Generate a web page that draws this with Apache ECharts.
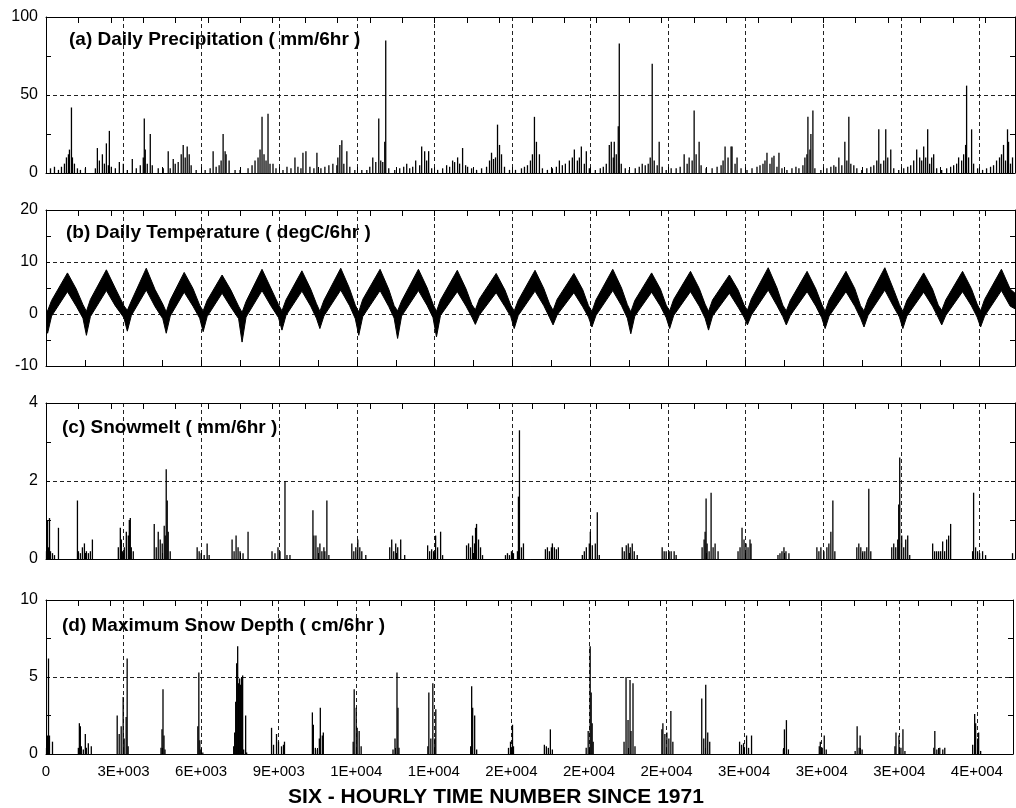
<!DOCTYPE html>
<html>
<head>
<meta charset="utf-8">
<script src="https://cdn.jsdelivr.net/npm/echarts@6/dist/echarts.min.js"></script>
<style>html,body{margin:0;padding:0;background:#fff}#c{width:1016px;height:808px}</style>
</head>
<body>
<div id="c"></div>
<script>
// ---------- tick labels ----------
const xTickLabels = ['0','3E+003','6E+003','9E+003','1E+004','1E+004','2E+004','2E+004','2E+004','3E+004','3E+004','3E+004','4E+004'];
const panelTitles = ['(a) Daily Precipitation ( mm/6hr )','(b) Daily Temperature ( degC/6hr )','(c) Snowmelt ( mm/6hr )','(d) Maximum Snow Depth ( cm/6hr )'];
const xAxisTitle = 'SIX - HOURLY TIME NUMBER SINCE 1971';

// ---------- (a) precipitation spikes [time, mm/6hr] ----------
const precipSpikes = [[169,3],[318,4],[468,2],[581,4],[693,6],[768,10],[843,12],[881,15],[956,42],[993,10],[1068,6],[1181,3],[1293,2],[1480,3],
[1855,3],[1930,16],[2005,8],[2118,12],[2193,6],[2268,19],[2342,5],[2380,27],[2455,4],[2605,3],[2755,7],[2905,6],[3055,2],
[3242,9],[3392,3],[3542,5],[3654,10],[3692,35],[3729,15],[3804,6],[3917,25],[3992,5],[4216,3],[4404,3],[4591,14],[4666,3],
[4779,9],[4854,6],[4966,7],[5079,12],[5154,18],[5229,10],[5304,17],[5379,12],[5453,5],[5641,2],[5978,2],[6166,3],[6278,14],
[6391,4],[6503,5],[6578,8],[6653,25],[6728,14],[6765,12],[6878,8],[7102,2],[7290,2],[7590,3],[7740,5],[7852,8],[7965,10],
[8040,15],[8115,36],[8190,12],[8265,8],[8340,38],[8415,6],[8527,6],[8640,3],[8902,2],[9052,4],[9202,3],[9352,10],[9464,4],
[9577,3],[9652,13],[9764,14],[9914,4],[10064,3],[10177,13],[10327,3],[10476,4],[10626,5],[10776,6],[10926,5],[10963,10],
[11038,18],[11113,21],[11188,6],[11301,14],[11413,4],[11601,2],[11863,2],[12051,2],[12163,4],[12275,10],[12388,7],[12500,35],
[12575,8],[12650,7],[12725,20],[12762,85],[12875,3],[13100,2],[13287,3],[13437,4],[13550,6],[13662,3],[13775,4],[13887,8],
[14037,5],[14112,17],[14224,14],[14299,8],[14374,14],[14487,3],[14712,2],[14899,3],[15049,5],[15162,4],[15274,8],[15349,7],
[15462,10],[15537,6],[15649,16],[15762,5],[15837,4],[15987,3],[16174,2],[16362,3],[16549,4],[16661,8],[16736,13],[16811,9],
[16886,10],[16961,31],[17036,18],[17111,12],[17223,4],[17411,2],[17636,2],[17861,3],[17973,4],[18086,5],[18198,8],[18273,12],
[18348,36],[18423,20],[18535,12],[18648,3],[18835,2],[19022,3],[19172,4],[19285,8],[19397,5],[19510,6],[19660,8],[19772,10],
[19847,15],[19960,8],[20035,10],[20110,17],[20222,6],[20297,14],[20410,3],[20635,2],[20822,3],[20935,4],[21047,6],[21160,18],
[21235,20],[21310,10],[21347,20],[21422,12],[21497,30],[21535,83],[21610,6],[21760,3],[21910,2],[22135,3],[22285,4],[22397,6],
[22510,5],[22622,6],[22697,10],[22772,70],[22847,8],[22959,5],[23034,20],[23147,4],[23297,2],[23484,3],[23672,3],[23822,4],
[23972,12],[24084,6],[24159,10],[24272,8],[24347,40],[24422,12],[24534,20],[24609,5],[24797,3],[25022,3],[25209,4],[25359,5],
[25434,8],[25509,17],[25621,10],[25734,17],[25771,17],[25884,6],[25959,10],[26109,3],[26333,2],[26521,3],[26708,4],[26821,5],
[26933,6],[27008,8],[27083,13],[27196,6],[27271,10],[27346,11],[27458,4],[27533,13],[27646,3],[27833,2],[28021,3],[28171,4],
[28283,3],[28433,5],[28508,10],[28583,12],[28621,36],[28696,15],[28733,25],[28808,40],[28883,3],[29108,2],[29333,3],[29483,4],
[29595,5],[29670,4],[29783,10],[29895,5],[30008,20],[30083,8],[30158,36],[30233,6],[30345,5],[30458,3],[30645,2],[30833,3],
[30983,4],[31096,5],[31208,8],[31283,28],[31358,6],[31470,8],[31545,28],[31620,10],[31733,15],[31845,3],[32032,2],[32220,3],
[32370,4],[32482,5],[32595,8],[32707,15],[32820,10],[32895,8],[32970,17],[33045,10],[33120,28],[33195,6],[33270,10],[33345,12],
[33457,3],[33645,2],[33832,3],[33982,4],[34095,5],[34207,6],[34282,10],[34395,8],[34470,12],[34545,18],[34582,56],[34657,10],
[34770,28],[34845,6],[34995,3],[35182,2],[35332,3],[35482,4],[35594,5],[35707,8],[35819,10],[35894,12],[35969,18],[36044,8],
[36119,28],[36157,20],[36232,6],[36307,10]];

// ---------- (b) temperature band: upper / lower envelope ----------
const tempTime = [0,
60,210,806,1136,1388, 1518,1668,2268,2598,2925, 3055,3205,3767,4097,4387, 4517,4667,5191,5521,5773,
5903,6053,6615,6945,7235, 7365,7515,8114,8444,8734, 8864,9014,9613,9943,10158, 10288,10438,11072,11402,11618,
11748,11898,12549,12879,13078, 13208,13358,13990,14320,14538, 14668,14818,15450,15780,15998, 16128,16278,16910,17240,17458,
17588,17738,18370,18700,18918, 19048,19198,19830,20160,20378, 20508,20658,21290,21620,21838, 21968,22118,22750,23080,23298,
23428,23578,24210,24540,24758, 24888,25038,25670,26000,26218, 26348,26498,27130,27460,27678, 27808,27958,28590,28920,29138,
29268,29418,30050,30380,30598, 30728,30878,31510,31840,32058, 32188,32338,32970,33300,33518, 33648,33798,34430,34760,34978,
35108,35258,35890,36220,36400];
const tempUpper = [0.8,
0.6,2.6,7.9,4.8,1.8, 0.5,2.8,8.5,5.0,1.6, 0.7,2.5,8.8,4.7,1.9, 0.4,2.7,8.0,4.9,1.7,
0.6,2.6,7.5,4.6,1.5, 0.3,2.4,8.6,5.0,1.8, 0.6,2.7,8.3,4.8,2.0, 0.5,2.6,8.8,4.9,1.7,
0.4,2.8,8.6,4.7,1.6, 0.6,2.5,8.6,5.0,1.9, 0.5,2.7,8.4,4.8,1.8, 0.8,2.9,7.8,4.6,1.7,
0.6,2.6,8.4,4.9,1.9, 0.7,2.8,7.8,4.7,1.6, 0.5,2.7,8.6,5.0,1.8, 0.4,2.6,7.9,4.8,1.7,
0.6,2.8,8.2,4.9,1.9, 0.5,2.7,7.5,4.6,1.8, 0.7,2.9,8.9,5.0,1.7, 0.6,2.6,8.2,4.8,1.9,
0.5,2.7,8.2,4.9,1.6, 0.6,2.8,8.9,4.7,1.8, 0.5,2.6,7.9,4.8,1.7, 0.7,2.7,8.2,4.9,1.9,
0.6,2.8,8.6,4.8,4.0];
const tempLower = [-2.0,
-3.7,-0.4,4.3,1.5,-0.8, -4.1,-0.5,4.5,1.6,-0.7, -3.3,-0.3,4.6,1.4,-0.9, -3.7,-0.4,4.2,1.5,-0.8,
-3.4,-0.5,4.0,1.3,-0.9, -5.4,-0.6,4.5,1.6,-0.7, -3.1,-0.3,4.4,1.5,-0.8, -2.8,-0.4,4.6,1.6,-0.9,
-4.1,-0.5,4.5,1.4,-0.8, -4.7,-0.4,4.5,1.6,-0.7, -4.4,-0.3,4.3,1.5,-0.6, -2.0,-0.2,4.1,1.4,-0.5,
-2.8,-0.3,4.4,1.6,-0.7, -2.1,-0.2,4.1,1.4,-0.6, -2.5,-0.3,4.5,1.6,-0.8, -3.8,-0.4,4.2,1.5,-0.7,
-2.8,-0.3,4.3,1.5,-0.8, -3.1,-0.4,4.0,1.3,-0.6, -2.1,-0.2,4.6,1.6,-0.5, -2.1,-0.3,4.3,1.5,-0.7,
-2.8,-0.4,4.3,1.5,-0.8, -2.5,-0.3,4.6,1.4,-0.6, -2.8,-0.4,4.2,1.5,-0.7, -2.1,-0.3,4.3,1.6,-0.6,
-2.5,-0.4,4.5,1.5,1.0];

// ---------- (c) snowmelt spikes [time, mm/6hr] ----------
const meltSpikes = [[19,0.2],[56,1.0],[94,0.3],[131,1.05],[169,0.2],[244,0.15],[319,0.1],[468,0.8],
[1181,1.5],[1218,0.2],[1293,0.15],[1368,0.3],[1443,0.4],[1518,0.2],[1593,0.15],[1668,0.2],[1743,0.5],
[2717,0.3],[2792,0.8],[2830,0.5],[2867,0.2],[2942,0.3],[3017,0.7],[3092,0.6],[3130,1.0],[3167,1.05],[3204,0.3],[3279,0.2],
[4066,0.9],[4141,0.3],[4216,0.7],[4291,0.5],[4366,0.4],[4441,0.85],[4479,0.6],[4516,2.3],[4554,1.5],[4591,0.7],[4666,0.2],
[5678,0.3],[5753,0.2],[5828,0.15],[5941,0.1],[6053,0.4],[6128,0.1],
[6990,0.5],[7065,0.2],[7140,0.6],[7215,0.3],[7290,0.2],[7402,0.15],[7590,0.7],
[8490,0.2],[8602,0.15],[8715,0.3],[8790,0.2],[8977,2.0],[9052,0.1],[9164,0.1],
[10027,1.25],[10064,0.6],[10139,0.6],[10214,0.3],[10289,0.4],[10364,0.2],[10439,0.3],[10476,0.2],[10551,1.5],[10626,0.1],
[11488,0.4],[11563,0.2],[11638,0.3],[11713,0.5],[11788,0.3],[11863,0.2],[12013,0.1],
[12912,0.3],[12987,0.5],[13062,0.2],[13137,0.4],[13212,0.3],[13324,0.5],[13474,0.1],
[14336,0.35],[14411,0.2],[14486,0.25],[14561,0.2],[14636,0.6],[14711,0.3],[14823,0.7],[14898,0.1],
[15798,0.35],[15873,0.4],[15948,0.3],[16023,0.6],[16098,0.4],[16136,0.8],[16173,0.9],[16248,0.5],[16323,0.3],[16398,0.1],
[17260,0.1],[17335,0.15],[17410,0.1],[17485,0.2],[17560,0.15],[17710,0.2],[17747,1.6],[17785,3.3],[17860,0.3],[17935,0.4],
[18760,0.25],[18835,0.3],[18910,0.2],[18985,0.3],[19022,0.4],[19097,0.3],[19172,0.25],[19247,0.3],
[20147,0.1],[20222,0.2],[20297,0.3],[20409,0.4],[20447,0.7],[20522,0.35],[20634,0.4],[20709,1.2],[20784,0.1],
[21647,0.3],[21722,0.2],[21797,0.35],[21872,0.4],[21947,0.3],[22022,0.4],[22097,0.2],[22209,0.1],
[23146,0.3],[23221,0.2],[23296,0.2],[23409,0.2],[23484,0.2],[23596,0.2],[23671,0.1],
[24646,0.3],[24721,0.5],[24759,0.7],[24796,1.55],[24834,0.4],[24909,0.2],[24984,1.7],[25059,0.3],[25134,0.4],[25246,0.2],
[25996,0.2],[26071,0.3],[26146,0.8],[26221,0.5],[26296,0.4],[26371,0.3],[26446,0.5],[26484,0.4],
[27496,0.1],[27571,0.15],[27646,0.2],[27721,0.3],[27796,0.2],[27908,0.15],
[28958,0.3],[29033,0.2],[29108,0.3],[29221,0.2],[29333,0.3],[29408,0.4],[29483,0.7],[29558,1.5],[29633,0.2],
[30458,0.3],[30533,0.4],[30608,0.3],[30683,0.2],[30758,0.2],[30833,0.3],[30908,1.8],[30983,0.2],
[31770,0.3],[31845,0.4],[31920,0.3],[31995,0.5],[32032,1.4],[32070,2.6],[32145,0.6],[32220,0.3],[32295,0.5],[32370,0.6],[32445,0.1],
[33307,0.4],[33382,0.2],[33457,0.2],[33532,0.2],[33607,0.2],[33682,0.45],[33757,0.2],[33832,0.5],[33907,0.6],[33982,0.9],
[34807,0.2],[34845,1.7],[34920,0.3],[34995,0.2],[35070,0.15],[35182,0.2],[35295,0.1],[36307,0.15]];

// ---------- (d) maximum snow depth spikes [time, cm/6hr] ----------
const depthSpikes = [[20,0.4],[56,1.2],[94,6.2],[131,1.2],[244,0.8],
[1218,0.4],[1256,2.0],[1293,1.8],[1330,0.5],[1405,0.3],[1480,1.3],[1518,0.4],[1593,0.7],[1705,0.5],
[2680,2.5],[2755,1.3],[2830,1.8],[2905,3.7],[2942,1.0],[3017,2.4],[3055,6.2],[3092,0.5],
[4329,0.4],[4366,1.6],[4404,4.2],[4441,1.2],[4479,0.3],
[5715,1.8],[5753,5.3],[5790,0.9],[5828,0.3],[5903,0.1],
[7065,0.5],[7102,1.4],[7140,3.4],[7177,5.9],[7215,7.0],[7252,4.6],[7290,4.9],[7327,4.5],[7365,5.0],[7402,5.1],[7440,0.3],[7515,2.5],[7552,0.1],
[8490,1.7],[8565,0.6],[8677,1.3],[8752,0.8],[8865,0.5],[8940,0.6],[8977,0.8],
[10027,2.7],[10064,1.9],[10139,0.4],[10214,0.3],[10289,1.0],[10326,3.0],[10401,1.2],[10439,1.4],
[11563,0.8],[11601,4.2],[11676,3.0],[11713,1.7],[11788,1.5],[11863,0.5],
[13062,0.3],[13137,1.0],[13212,5.3],[13249,3.0],[13287,0.4],
[14374,0.5],[14411,4.0],[14486,1.0],[14561,4.6],[14636,1.0],[14673,2.9],
[15986,0.5],[16023,4.4],[16061,3.0],[16136,2.5],[16211,0.3],
[17410,0.4],[17485,0.8],[17560,1.9],[17597,0.5],
[18760,0.6],[18835,0.5],[18910,0.4],[18985,1.6],[19060,0.3],
[20334,0.4],[20409,1.5],[20484,7.0],[20522,4.0],[20559,2.0],[20597,0.8],
[21759,0.8],[21834,5.0],[21909,2.2],[21984,4.8],[22021,1.5],[22096,4.6],[22171,0.5],
[23183,1.6],[23221,2.0],[23296,1.3],[23371,1.4],[23446,1.0],[23521,2.8],[23596,0.8],
[24684,3.6],[24759,1.0],[24834,4.5],[24909,1.4],[24984,0.8],
[26108,0.8],[26183,0.6],[26258,0.7],[26371,1.2],[26446,0.4],[26558,1.2],
[27758,0.3],[27796,1.6],[27871,2.2],[27946,0.3],
[29108,0.5],[29146,0.8],[29220,0.4],[29295,1.2],[29370,0.3],
[30458,0.2],[30533,1.8],[30608,0.4],[30645,1.2],[30720,0.3],
[31957,0.5],[31995,1.4],[32107,1.2],[32182,0.4],[32257,1.6],[32332,0.2],
[33419,0.4],[33457,1.5],[33532,0.3],[33644,0.4],[33757,0.3],[33832,0.4],
[34882,0.6],[34957,2.6],[34995,2.0],[35070,1.0],[35107,1.4],[35182,0.2]];

// ---------- axis ranges ----------
const xMin = 0, xMax = 36400;
const yRanges = [[0,100,50],[-10,20,10],[0,4,2],[0,10,5]];

// ---------- layout ----------
const FONT = "'Liberation Sans', Arial, sans-serif";
const gridTops = [17, 210, 403, 600];
const gridHeights = [156, 156, 156, 154];
const titlePos = [[69,30],[66,223],[62,418],[62,616]];

const chart = echarts.init(document.getElementById('c'), null, {renderer:'canvas'});
const grids = [], xAxes = [], yAxes = [], series = [], titles = [];
const dash = {type:[4,3], color:'#222', width:1};

for (let g = 0; g < 4; g++) {
  grids.push({left:46, right:1, top:gridTops[g], height:gridHeights[g]});
  // bottom axis (ticks every 1460, labels at multiples of 2920)
  xAxes.push({type:'value', gridIndex:g, position:'bottom', min:xMin, max:xMax, interval:1460,
    axisLine:{show:true, onZero:false, lineStyle:{color:'#000', width:1}},
    axisTick:{show:true, inside:true, length:6, lineStyle:{color:'#000'}},
    axisLabel:{show:g===3, color:'#000', fontSize:15, fontFamily:FONT, margin:10,
      formatter: v => (v % 2920 === 0 && xTickLabels[v/2920] !== undefined) ? xTickLabels[v/2920] : ''},
    splitLine:{show:false}});
  // top axis (frame with ticks)
  xAxes.push({type:'value', gridIndex:g, position:'top', min:xMin, max:xMax, interval:14600/12,
    axisLine:{show:true, onZero:false, lineStyle:{color:'#000', width:1}},
    axisTick:{show:true, inside:true, length:6, lineStyle:{color:'#000'}},
    axisLabel:{show:false}, splitLine:{show:false}});
  // vertical dashed grid lines every 2920
  xAxes.push({type:'value', gridIndex:g, position:'bottom', min:xMin, max:xMax, interval:2920,
    axisLine:{show:false}, axisTick:{show:false}, axisLabel:{show:false},
    splitLine:{show:true, lineStyle:dash}});
  const [ymin, ymax, yint] = yRanges[g];
  yAxes.push({type:'value', gridIndex:g, position:'left', min:ymin, max:ymax, interval:yint,
    axisLine:{show:true, onZero:false, lineStyle:{color:'#000', width:1}},
    axisTick:{show:true, inside:true, length:4, lineStyle:{color:'#000'}},
    minorTick:{show:true, splitNumber:2, length:5, lineStyle:{color:'#000'}},
    axisLabel:{color:'#000', fontSize:16, fontFamily:FONT, margin:8},
    splitLine:{show:true, lineStyle:dash}});
  yAxes.push({type:'value', gridIndex:g, position:'right', min:ymin, max:ymax, interval:yint,
    axisLine:{show:true, onZero:false, lineStyle:{color:'#000', width:1}},
    axisTick:{show:true, inside:true, length:4, lineStyle:{color:'#000'}},
    minorTick:{show:true, splitNumber:2, length:5, lineStyle:{color:'#000'}},
    axisLabel:{show:false}, splitLine:{show:false}});
  titles.push({text:panelTitles[g], left:titlePos[g][0], top:titlePos[g][1], padding:0,
    textStyle:{fontFamily:FONT, fontWeight:'bold', fontSize:19, color:'#000'}});
}

function spikeSeries(g, data) {
  return {type:'bar', xAxisIndex:g*3, yAxisIndex:g*2, data:data, barWidth:1.3,
    itemStyle:{color:'#000'}, silent:true, animation:false, clip:true};
}
series.push(spikeSeries(0, precipSpikes));
series.push({type:'custom', xAxisIndex:3, yAxisIndex:2, data:[[0,0]], silent:true, clip:true,
  renderItem: function (params, api) {
    if (params.dataIndex !== 0) return;
    const pts = [];
    for (let i = 0; i < tempTime.length; i++) pts.push(api.coord([tempTime[i], tempUpper[i]]));
    for (let i = tempTime.length - 1; i >= 0; i--) pts.push(api.coord([tempTime[i], tempLower[i]]));
    return {type:'polygon', shape:{points:pts}, style:{fill:'#000', stroke:'#000', lineWidth:1}};
  }});
series.push(spikeSeries(2, meltSpikes));
series.push(spikeSeries(3, depthSpikes));

chart.setOption({
  animation:false,
  backgroundColor:'#fff',
  title:titles,
  grid:grids, xAxis:xAxes, yAxis:yAxes, series:series,
  graphic:[{type:'text', x:496, y:797, style:{text:xAxisTitle, font:"bold 21px " + FONT, fill:'#000', textAlign:'center', textVerticalAlign:'middle'}}]
});
</script>
</body>
</html>
